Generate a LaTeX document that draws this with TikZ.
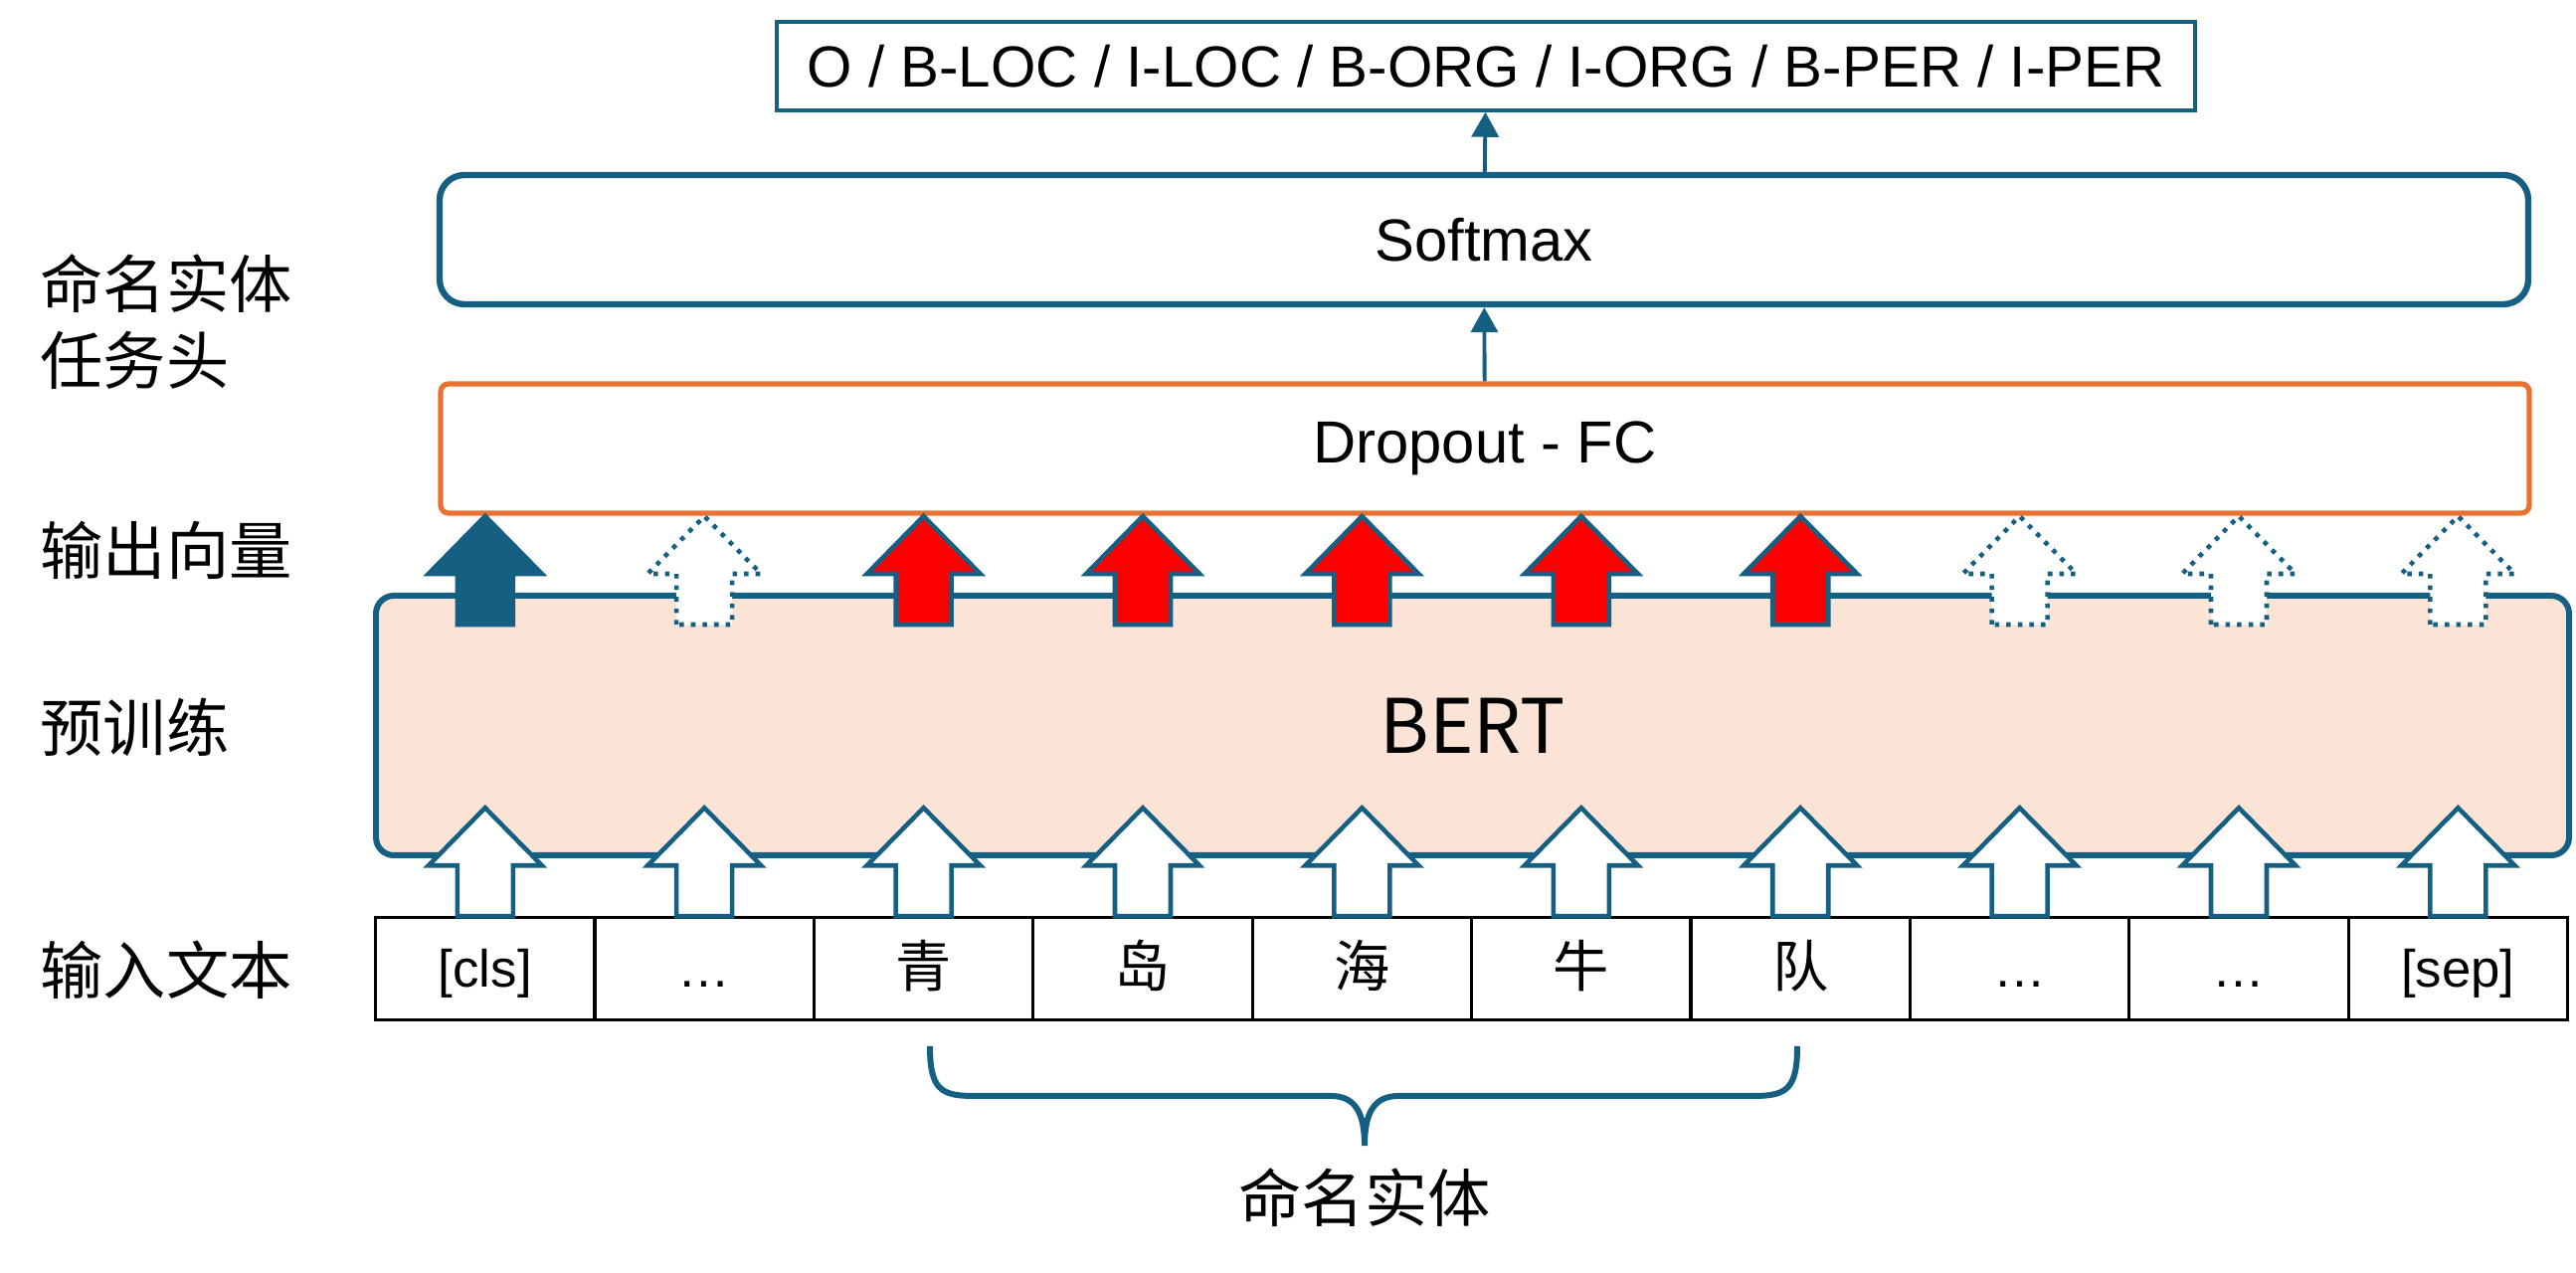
\documentclass[tikz,border=0pt]{standalone}
\usepackage{fontspec}
\setmainfont{Liberation Sans}
\newfontfamily\cjk{Noto Sans CJK SC}
\usetikzlibrary{arrows.meta}
\definecolor{bertblue}{HTML}{156082}
\definecolor{fcorange}{HTML}{E97132}
\definecolor{bertfill}{HTML}{FBE3D6}
\newcommand\tok[1]{{\cjk\fontsize{16}{19}\selectfont #1}}

\begin{document}
\begin{tikzpicture}[
    layer/.style={draw=bertblue, line width=1.8pt, rounded corners=0.25cm, minimum width=21cm, minimum height=1.3cm, font=\fontsize{17}{20}\selectfont},
    cell/.style={draw, line width=0.9pt, minimum width=2.204cm, minimum height=1.023cm, text height=1.05em, text depth=0.02em, font=\fontsize{15}{18}\selectfont},
    side/.style={anchor=west, align=left, inner sep=0pt, font=\cjk\fontsize{18}{22}\selectfont},
    flow/.style={-{Triangle[length=0.25cm,width=0.27cm]}, line width=1.1pt, bertblue},
    vec/.style={draw=bertblue, line width=1.3pt},
    solidvec/.style={vec, fill=bertblue},
    emptyvec/.style={vec, dotted, fill=white},
    hitvec/.style={vec, fill=red},
    blockup/.pic={\path[pic actions] (-0.28,0) -- (-0.28,0.51) -- (-0.57,0.51) -- (0,1.09) -- (0.57,0.51) -- (0.28,0.51) -- (0.28,0) -- cycle;}
  ]
  \useasboundingbox (0,0) rectangle (25.9,12.8);
  \node[draw=bertblue, line width=1pt, minimum width=14.26cm, minimum height=0.89cm, font=\fontsize{16.6}{20}\selectfont] (lbl) at (14.94,12.135) {O / B-LOC / I-LOC / B-ORG / I-ORG / B-PER / I-PER};
  \node[layer] (soft) at (14.92,10.39) {Softmax};
  \node[layer, draw=fcorange, line width=1.5pt, rounded corners=0.08cm] (drop) at (14.93,8.29) {Dropout - FC};
  \node[layer, fill=bertfill, line width=1.7pt, rounded corners=0.18cm, minimum width=22.05cm, minimum height=2.61cm, font=\cjk\fontsize{21.5}{26}\selectfont] (bert) at (14.805,5.505) {BERT};
  \draw[flow] (drop) -- (soft);
  \draw[flow] (soft) -- (lbl);

  \foreach \t [count=\i] in {{[cls]}, {…}, {\tok{青}}, {\tok{岛}}, {\tok{海}}, {\tok{牛}}, {\tok{队}}, {…}, {…}, {[sep]}}
    \node[cell] (c\i) at (2.674+2.204*\i,3.06) {\t};
  \foreach \i in {1,...,10}
    \path (c\i.north) pic[vec, fill=white] {blockup};
  \foreach \i/\s in {1/solidvec, 2/emptyvec, 3/hitvec, 4/hitvec, 5/hitvec, 6/hitvec, 7/hitvec, 8/emptyvec, 9/emptyvec, 10/emptyvec}
    \path (c\i |- bert.north) ++(0,-0.32) pic[\s] {blockup};

  \node[side] (headlbl) at (0.40,9.565) {命名实体\\任务头};
  \node[side] (veclbl) at (0.40,7.27) {输出向量};
  \node[side] (prelbl) at (0.40,5.49) {预训练};
  \node[side] (inlbl) at (0.40,3.05) {输入文本};

  \draw[bertblue, line width=1.7pt] (9.35,2.28) .. controls (9.35,1.86) and (9.45,1.78) .. (9.78,1.78) -- (13.38,1.78) .. controls (13.62,1.78) and (13.72,1.62) .. (13.72,1.28) .. controls (13.72,1.62) and (13.82,1.78) .. (14.06,1.78) -- (17.64,1.78) .. controls (17.97,1.78) and (18.07,1.86) .. (18.07,2.28);
  \node[font=\cjk\fontsize{18}{22}\selectfont] (ent) at (13.72,0.76) {命名实体};
\end{tikzpicture}
\end{document}
